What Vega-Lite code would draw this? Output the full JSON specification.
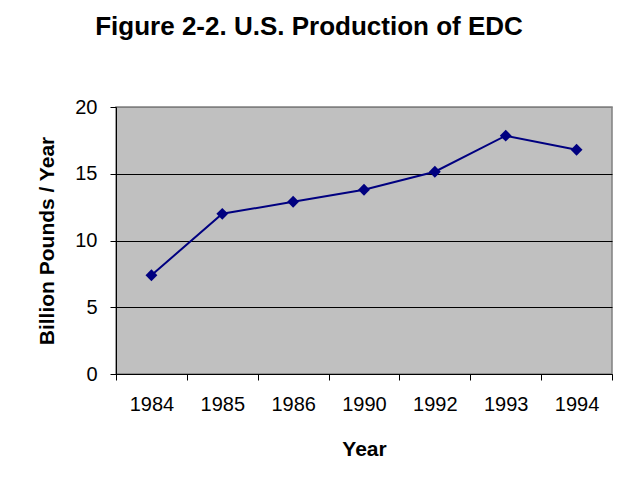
{
  "$schema": "https://vega.github.io/schema/vega-lite/v6.json",
  "width": 496,
  "height": 267,
  "autosize": {"type": "none"},
  "padding": {"left": 116, "top": 107, "right": 20, "bottom": 114},
  "background": "white",
  "title": {
    "text": "Figure 2-2. U.S. Production of EDC",
    "font": "Liberation Sans",
    "fontSize": 26,
    "fontWeight": "bold",
    "color": "black",
    "anchor": "middle",
    "baseline": "alphabetic",
    "dx": -55,
    "offset": 36
  },
  "data": {
    "values": [
      {"Year": "1984", "Production": 7.4},
      {"Year": "1985", "Production": 12.0},
      {"Year": "1986", "Production": 12.9},
      {"Year": "1990", "Production": 13.8},
      {"Year": "1992", "Production": 15.15},
      {"Year": "1993", "Production": 17.85},
      {"Year": "1994", "Production": 16.8}
    ]
  },
  "mark": {
    "type": "line",
    "color": "#000080",
    "strokeWidth": 2,
    "point": {"shape": "diamond", "size": 140, "filled": true, "color": "#000080", "opacity": 1}
  },
  "encoding": {
    "x": {
      "field": "Year",
      "type": "ordinal",
      "sort": null,
      "scale": {"type": "band", "paddingInner": 0, "paddingOuter": 0},
      "axis": {
        "title": "Year",
        "labelAngle": 0,
        "tickBand": "extent",
        "grid": false,
        "labelPadding": 14,
        "titlePadding": 24,
        "titleFontSize": 21
      }
    },
    "y": {
      "field": "Production",
      "type": "quantitative",
      "scale": {"domain": [0, 20]},
      "axis": {
        "title": "Billion Pounds / Year",
        "values": [0, 5, 10, 15, 20],
        "grid": true,
        "gridColor": {"condition": {"test": "datum.value == 20", "value": "#808080"}, "value": "black"},
        "gridWidth": 1,
        "gridOpacity": 1,
        "labelPadding": 13,
        "titlePadding": 17,
        "titleFontSize": 21
      }
    }
  },
  "config": {
    "view": {"fill": "#C0C0C0", "stroke": "#808080", "strokeWidth": 1.5},
    "axis": {
      "domainColor": "black",
      "domainWidth": 1,
      "tickColor": "black",
      "tickSize": 6,
      "tickWidth": 1,
      "labelFont": "Liberation Sans",
      "labelFontSize": 20,
      "labelColor": "black",
      "titleFont": "Liberation Sans",
      "titleFontWeight": "bold",
      "titleColor": "black"
    }
  }
}
